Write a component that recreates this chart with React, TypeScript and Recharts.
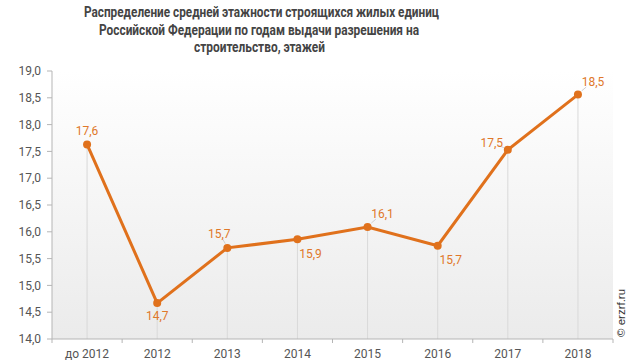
import React from 'react';
import { LineChart, Line, XAxis, YAxis, CartesianGrid, ReferenceLine, LabelList } from 'recharts';

const categories = ['до 2012', '2012', '2013', '2014', '2015', '2016', '2017', '2018'];
const values = [17.63, 14.67, 15.7, 15.86, 16.09, 15.74, 17.53, 18.56];
const valueLabels = ['17,6', '14,7', '15,7', '15,9', '16,1', '15,7', '17,5', '18,5'];
const yTicks = [14, 14.5, 15, 15.5, 16, 16.5, 17, 17.5, 18, 18.5, 19];
const titleLines = [
  'Распределение средней этажности  строящихся  жилых единиц',
  'Российской  Федерации по годам выдачи разрешения на',
  'строительство,  этажей',
];
const watermark = '© erzrf.ru';

const data = categories.map((c, i) => ({ cat: c, value: values[i], label: valueLabels[i] }));

const W = 637;
const H = 362;
const MARGIN = { top: 71, right: 24, bottom: 3, left: 0 };
const Y_AXIS_W = 52;
const BAND = (W - MARGIN.left - MARGIN.right - Y_AXIS_W) / categories.length;
const ORANGE = '#E0711C';
const LABEL_COLOR = '#E0782A';
const AXIS = '#b5b5b5';

// label offsets (text centre relative to point)
const labelOffsets = [
  [0, -13.5],
  [0, 13],
  [-8, -14],
  [13, 14],
  [15, -13],
  [13, 14],
  [-16, -7],
  [15, -12.5],
];
const leaders = [false, false, true, false, true, false, true, true];

const XTick = (props: any) => {
  const { x, y, payload, index, visibleTicksCount } = props;
  const axisY = y - 6;
  const lines = [
    <line key="l" x1={x - BAND / 2} x2={x - BAND / 2} y1={axisY} y2={axisY + 4} stroke={AXIS} />,
  ];
  if (index === (visibleTicksCount ?? categories.length) - 1) {
    lines.push(<line key="r" x1={x + BAND / 2} x2={x + BAND / 2} y1={axisY} y2={axisY + 4} stroke={AXIS} />);
  }
  return (
    <g>
      {lines}
      <text x={x} y={axisY + 19} textAnchor="middle" fontSize={12} fill="#555" fontFamily="Roboto, sans-serif">
        {payload.value}
      </text>
    </g>
  );
};

const PointLabel = (props: any) => {
  const { x, y, index, value } = props;
  const [dx, dy] = labelOffsets[index] || [0, -12];
  const tx = x + dx;
  const ty = y + dy;
  return (
    <g>
      {leaders[index] ? (
        <line x1={x + dx * 0.25} y1={y + dy * 0.3} x2={x + dx * 0.55} y2={y + dy * 0.6} stroke="#cfcfcf" strokeWidth={1} />
      ) : null}
      <text x={tx} y={ty} dy="0.35em" textAnchor="middle" fontSize={12} fill={LABEL_COLOR} fontFamily="Roboto, sans-serif">
        {value}
      </text>
    </g>
  );
};

export default function App() {
  return (
    <div style={{ position: 'absolute', left: 0, top: 0, width: W, height: H, background: '#fff' }}>
      <LineChart width={W} height={H} data={data} margin={MARGIN}>
        <defs>
          <linearGradient id="bgGrad" x1="0" y1="0" x2="0" y2="1">
            <stop offset="0%" stopColor="#ffffff" />
            <stop offset="100%" stopColor="#ebebeb" />
          </linearGradient>
        </defs>
        <CartesianGrid horizontal={false} vertical={false} fill="url(#bgGrad)" />
        <XAxis
          dataKey="cat"
          height={20}
          padding={{ left: BAND / 2, right: BAND / 2 }}
          axisLine={{ stroke: AXIS }}
          tickLine={false}
          tickSize={4}
          tickMargin={2}
          tick={<XTick />}
          interval={0}
        />
        <XAxis
          xAxisId="top"
          orientation="top"
          dataKey="cat"
          height={0}
          padding={{ left: BAND / 2, right: BAND / 2 }}
          tick={false}
          tickLine={false}
          axisLine={{ stroke: '#dedede' }}
        />
        <YAxis
          width={Y_AXIS_W}
          domain={[14, 19]}
          ticks={yTicks}
          interval={0}
          tickFormatter={(v: number) => v.toFixed(1).replace('.', ',')}
          tick={{ fontSize: 12, fill: '#555', fontFamily: 'Roboto, sans-serif' }}
          axisLine={{ stroke: AXIS }}
          tickLine={{ stroke: AXIS }}
          tickSize={5}
          tickMargin={6}
        />
        <YAxis
          yAxisId="right"
          orientation="right"
          width={0}
          domain={[14, 19]}
          tick={false}
          tickLine={false}
          axisLine={{ stroke: '#dedede' }}
        />
        {data.map((d) => (
          <ReferenceLine
            key={d.cat}
            segment={[
              { x: d.cat, y: 14 },
              { x: d.cat, y: d.value },
            ]}
            stroke="#d9d9d9"
            strokeWidth={1}
          />
        ))}
        <Line
          type="linear"
          dataKey="value"
          stroke={ORANGE}
          strokeWidth={3}
          dot={{ r: 4, fill: ORANGE, stroke: ORANGE, strokeWidth: 0 }}
          activeDot={false}
          isAnimationActive={false}
        >
          <LabelList dataKey="label" content={<PointLabel />} />
        </Line>
      </LineChart>
      <svg width={W} height={H} style={{ position: 'absolute', left: 0, top: 0, pointerEvents: 'none' }}>
        <g fontFamily="Roboto, sans-serif" fontWeight="bold" fontSize={14} fill="#444">
          <text x={84} y={17} textLength={355} lengthAdjust="spacingAndGlyphs">{titleLines[0]}</text>
          <text x={99} y={34.5} textLength={320} lengthAdjust="spacingAndGlyphs">{titleLines[1]}</text>
          <text x={194} y={52} textLength={131} lengthAdjust="spacingAndGlyphs">{titleLines[2]}</text>
        </g>
        <text
          x={0}
          y={0}
          transform="translate(625,337) rotate(-90)"
          fontSize={11.5}
          fill="#333"
          fontFamily="Arial, 'Liberation Sans', sans-serif"
        >
          {watermark}
        </text>
      </svg>
    </div>
  );
}
